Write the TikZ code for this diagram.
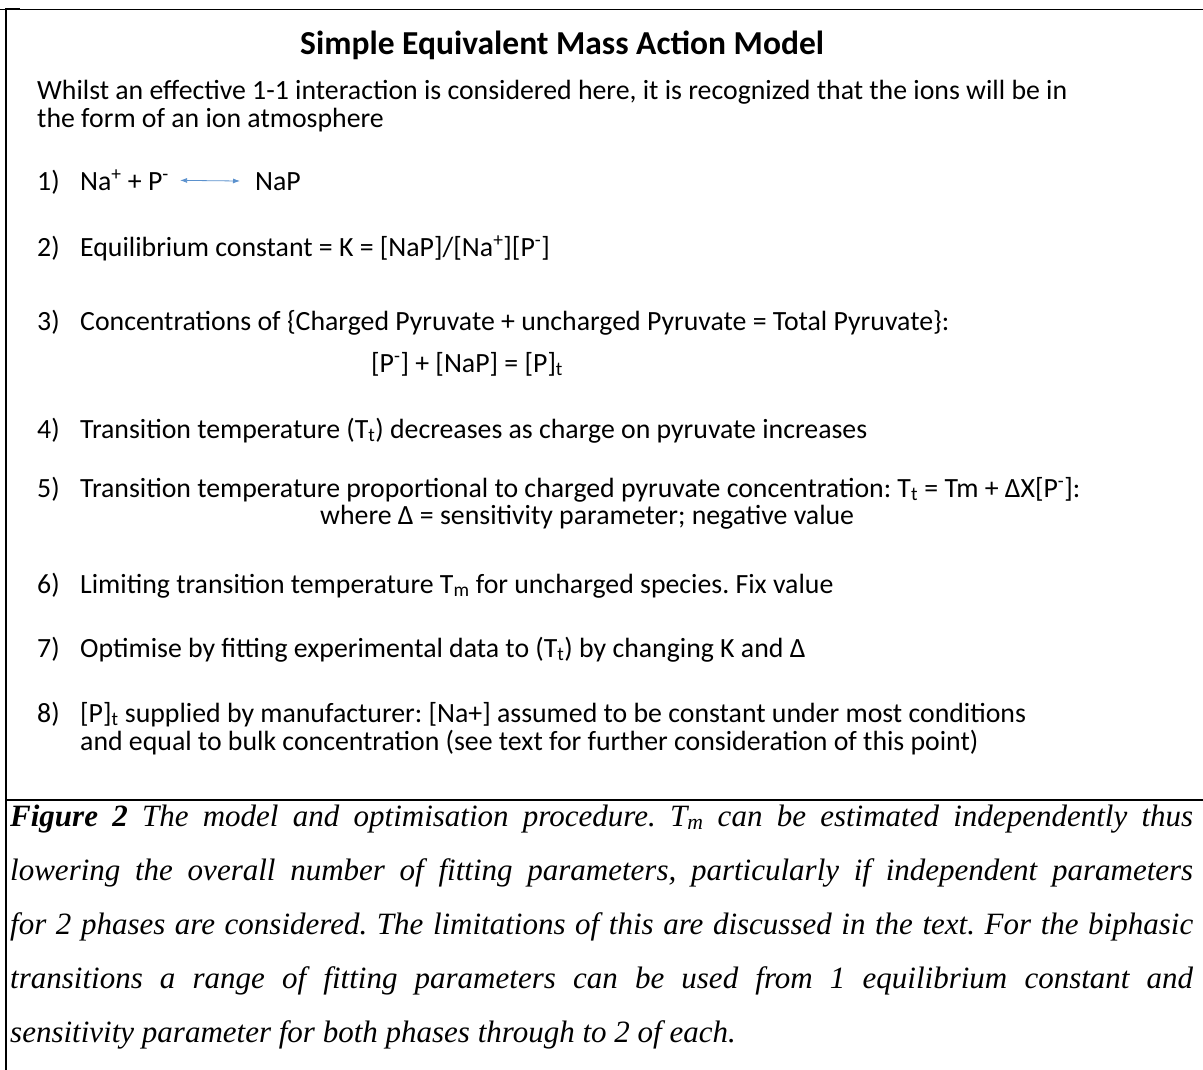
\documentclass[tikz,border=0pt]{standalone}
\usepackage{fontspec}
\setmainfont{Carlito}
\newfontfamily\capfont{Liberation Serif}
\usetikzlibrary{positioning}
\usetikzlibrary{arrows.meta}

\definecolor{arrowblue}{RGB}{91,145,205}

\tikzset{
  txt/.style={anchor=base west, inner sep=0pt, font=\fontsize{27.8}{32}\selectfont},
  heading/.style={anchor=base west, inner sep=0pt, font=\bfseries\fontsize{33.5}{38}\selectfont},
  eqarrow/.style={{Latex[length=7pt,width=5pt]}-{Latex[length=7pt,width=5pt]}, draw=arrowblue, line width=0.8pt},
  frame/.style={line width=2pt},
}

\begin{document}
\frenchspacing
\begin{tikzpicture}[x=1pt,y=-1pt]
    \useasboundingbox (0,0) rectangle (1203,1070);

    % Draw frame
    \draw[line width=0.8pt] (0,9) -- (1203,9);
    \draw[frame] (5,9) -- (20,9);
    \draw[frame] (6,9) -- (6,1070);
    \draw[frame] (5,800) -- (1203,800);

    % Title and intro
    \node[heading] (title) at (300,55) {Simple Equivalent Mass Action Model};
    \node[txt] (intro1) at (37,100) {Whilst an effective 1-1 interaction is considered here, it is recognized that the ions will be in};
    \node[txt] (intro2) at (37,128) {the form of an ion atmosphere};

    % Item 1 with reaction arrow
    \node[txt] (n1) at (37,190) {1)};
    \node[txt] (lhs) at (80,190) {Na\textsuperscript{+} + P\textsuperscript{-}};
    \node[txt] (rhs) at (255,190) {NaP};
    \draw[eqarrow, shorten <=11pt, shorten >=15pt] (lhs.east) -- (rhs.west);

    % Items 2 to 4
    \node[txt] (n2) at (37,256) {2)};
    \node[txt] (t2) at (80,256) {Equilibrium constant = K = [NaP]/[Na\textsuperscript{+}][P\textsuperscript{-}]};
    \node[txt] (n3) at (37,330) {3)};
    \node[txt] (t3) at (80,330) {Concentrations of \{Charged Pyruvate + uncharged Pyruvate = Total Pyruvate\}:};
    \node[txt] (t3b) at (371,372) {[P\textsuperscript{-}] + [NaP] = [P]\textsubscript{t}};
    \node[txt] (n4) at (37,438) {4)};
    \node[txt] (t4) at (80,438) {Transition temperature (T\textsubscript{t}) decreases as charge on pyruvate increases};

    % Item 5
    \node[txt] (n5) at (37,497) {5)};
    \node[txt] (t5) at (80,497) {Transition temperature proportional to charged pyruvate concentration: T\textsubscript{t} = Tm + ΔX[P\textsuperscript{-}]:};
    \node[txt] (t5b) at (320,524) {where Δ = sensitivity parameter; negative value};

    % Items 6 to 8
    \node[txt] (n6) at (37,593) {6)};
    \node[txt] (t6) at (80,593) {Limiting transition temperature T\textsubscript{m} for uncharged species. Fix value};
    \node[txt] (n7) at (37,657) {7)};
    \node[txt] (t7) at (80,657) {Optimise by fitting experimental data to (T\textsubscript{t}) by changing K and Δ};
    \node[txt] (n8) at (37,722) {8)};
    \node[txt] (t8) at (80,722) {[P]\textsubscript{t} supplied by manufacturer: [Na+] assumed to be constant under most conditions};
    \node[txt] (t8b) at (80,750) {and equal to bulk concentration (see text for further consideration of this point)};

    % Caption
    \node[anchor=base west, inner sep=0pt, text width=1183pt, align=justify,
          font=\capfont\itshape\fontsize{31}{54}\selectfont] (caption) at (10,826)
      {\textbf{Figure 2} The model and optimisation procedure. T\textsubscript{m} can be estimated independently thus\linebreak
       lowering the overall number of fitting parameters, particularly if independent parameters\linebreak
       for 2 phases are considered. The limitations of this are discussed in the text. For the biphasic\linebreak
       transitions a range of fitting parameters can be used from 1 equilibrium constant and\linebreak
       sensitivity parameter for both phases through to 2 of each.};
\end{tikzpicture}
\end{document}
